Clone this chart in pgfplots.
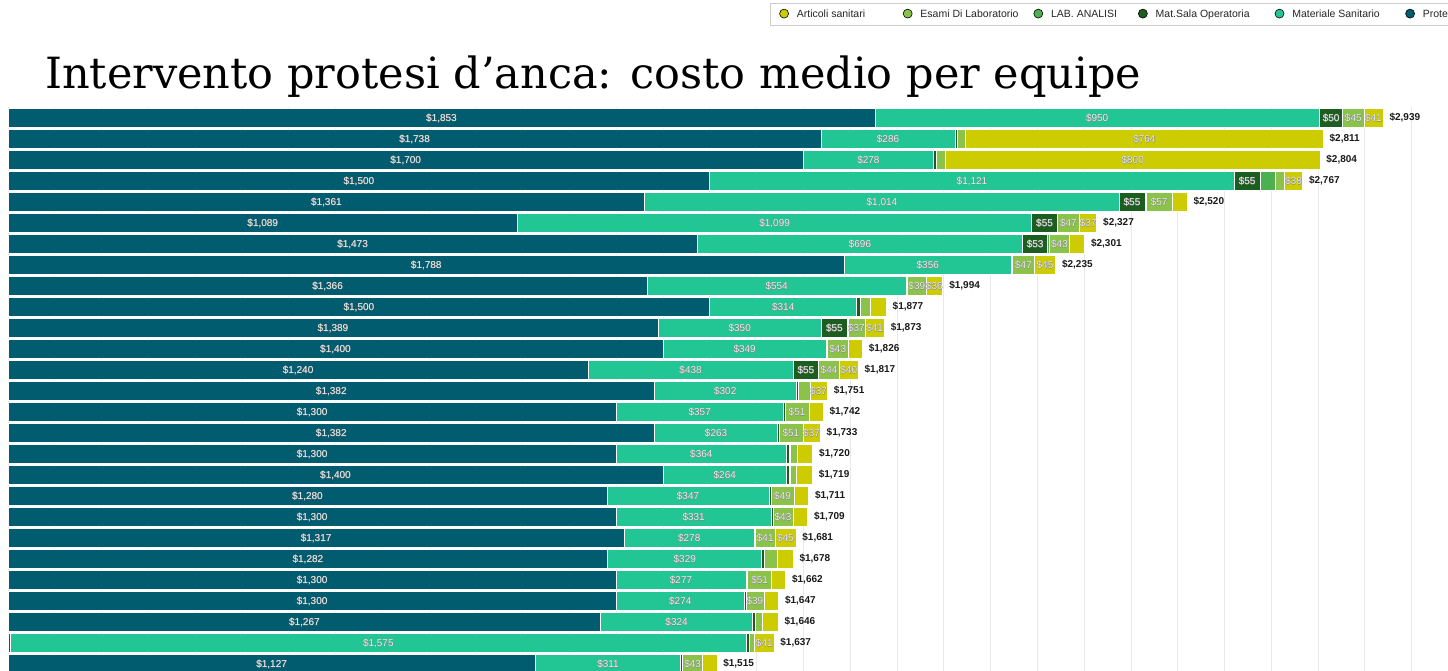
\documentclass[border=0pt]{standalone}
\usepackage{fontspec}
\setmainfont{Liberation Sans}
\newfontfamily\titlefont{DejaVu Serif}
\usepackage{pgfplots}
\usepackage{pgfplotstable}
\pgfplotsset{compat=1.18}

\definecolor{cprot}{RGB}{0,92,110}
\definecolor{cmat}{RGB}{33,198,148}
\definecolor{csala}{RGB}{27,94,32}
\definecolor{clab}{RGB}{76,175,80}
\definecolor{cesami}{RGB}{139,195,74}
\definecolor{cart}{RGB}{204,204,0}

% P = Protesi, M = Materiale Sanitario, S = Mat.Sala Operatoria,
% L = LAB. ANALISI, E = Esami Di Laboratorio, A = Articoli sanitari, T = totale
\pgfplotstableread{
i  P    M    S  L  E  A   T
0  1853 950  50 0  45 41  2939
1  1738 286  6  0  17 764 2811
2  1700 278  6  0  20 800 2804
3  1500 1121 55 32 21 38  2767
4  1361 1014 55 2  57 31  2520
5  1089 1099 55 0  47 37  2327
6  1473 696  53 4  43 32  2301
7  1788 356  3  0  47 45  2235
8  1366 554  3  0  39 36  1994
9  1500 314  7  0  22 34  1877
10 1389 350  55 1  37 41  1873
11 1400 349  3  0  43 31  1826
12 1240 438  55 0  44 40  1817
13 1382 302  6  0  24 37  1751
14 1300 357  4  0  51 30  1742
15 1382 263  3  0  51 37  1733
16 1300 364  5  3  14 34  1720
17 1400 264  5  3  13 34  1719
18 1280 347  4  0  49 31  1711
19 1300 331  4  0  43 31  1709
20 1317 278  3  0  41 45  1681
21 1282 329  6  0  28 33  1678
22 1300 277  4  0  51 30  1662
23 1300 274  3  0  39 31  1647
24 1267 324  7  0  14 34  1646
25 4    1575 6  0  11 41  1637
26 1127 311  4  0  43 30  1515
}\costi

\newcommand\lblfont{\fontsize{10}{12}\selectfont}
\pgfplotsset{
  myframe/.style={at={(8pt,-3.5pt)}, anchor=south west, scale only axis,
    width=1441pt, height=567pt, xmin=0, xmax=3080, ymin=-0.5, ymax=26.5,
    y dir=reverse},
  val/.style={forget plot, only marks, mark=*, mark size=0pt,
    mark options={draw=none, fill=none}},
  seg/.style={draw=white, line width=0.6pt},
  halo/.style={every node near coord/.append style={
    font=\lblfont\addfontfeature{FakeBold=2.5}, text=black!50}},
  plain/.style={every node near coord/.append style={
    font=\lblfont, text=white!93!black}},
}
\newcommand\money[1]{\$\pgfmathprintnumber[fixed,precision=0,1000 sep={,},assume math mode=true]{#1}}
% label of one segment: halo first, then the light text on top
\newcommand\lbl[2]{%
  \addplot[val, halo, restrict expr to domain={\thisrow{#2}}{35:99999}]
    table[x expr={#1}, y=i, meta=#2] {\costi};
  \addplot[val, plain, restrict expr to domain={\thisrow{#2}}{35:99999}]
    table[x expr={#1}, y=i, meta=#2] {\costi};
}

\begin{document}
\begin{tikzpicture}
\useasboundingbox (0,0) rectangle (1448pt,671pt);

\begin{axis}[myframe, xbar stacked, bar width=18.5pt,
  axis line style={draw=none}, ytick=\empty,
  xtick={0,100,...,3000}, xticklabels={}, major tick length=0pt,
  xmajorgrids, grid style={draw=black!9, line width=0.6pt}]
\addplot[seg, fill=cprot]  table[x=P, y=i] {\costi};
\addplot[seg, fill=cmat]   table[x=M, y=i] {\costi};
\addplot[seg, fill=csala]  table[x=S, y=i] {\costi};
\addplot[seg, fill=clab]   table[x=L, y=i] {\costi};
\addplot[seg, fill=cesami] table[x=E, y=i] {\costi};
\addplot[seg, fill=cart]   table[x=A, y=i] {\costi};
\end{axis}

\begin{axis}[myframe, hide axis, clip=false, point meta=explicit,
  nodes near coords={\money{\pgfplotspointmeta}},
  every node near coord/.append style={anchor=center},
  legend style={at={(0.5288,1.1843)}, anchor=north west,
    draw=black!20, line width=0.6pt, inner xsep=9pt, inner ysep=5.5pt,
    font=\fontsize{10.5}{12}\selectfont, text=black!85, legend columns=6,
    nodes={inner sep=0pt, text height=7.5pt, text depth=2pt},
    /tikz/every odd column/.append style={column sep=8pt},
    /tikz/every even column/.append style={column sep=0pt}},
  legend cell align=left,
  legend image code/.code={\fill[#1] (4.5pt,1pt) circle (4.5pt);}]
\lbl{\thisrow{P}/2}{P}
\lbl{\thisrow{P}+\thisrow{M}/2}{M}
\lbl{\thisrow{P}+\thisrow{M}+\thisrow{S}/2}{S}
\lbl{\thisrow{P}+\thisrow{M}+\thisrow{S}+\thisrow{L}/2}{L}
\lbl{\thisrow{P}+\thisrow{M}+\thisrow{S}+\thisrow{L}+\thisrow{E}/2}{E}
\lbl{\thisrow{P}+\thisrow{M}+\thisrow{S}+\thisrow{L}+\thisrow{E}+\thisrow{A}/2}{A}
% totali
\addplot[val, nodes near coords={\bfseries\money{\pgfplotspointmeta}},
  every node near coord/.append style={anchor=west, xshift=3pt,
    font=\fontsize{10}{12}\selectfont, text=black!90}]
  table[x expr={\thisrow{P}+\thisrow{M}+\thisrow{S}+\thisrow{L}+\thisrow{E}+\thisrow{A}}, y=i, meta=T] {\costi};

\addlegendimage{fill=cart}   \addlegendentry{\makebox[106pt][l]{Articoli sanitari}}
\addlegendimage{fill=cesami} \addlegendentry{\makebox[113pt][l]{Esami Di Laboratorio}}
\addlegendimage{fill=clab}   \addlegendentry{\makebox[87pt][l]{LAB. ANALISI}}
\addlegendimage{fill=csala}  \addlegendentry{\makebox[119pt][l]{Mat.Sala Operatoria}}
\addlegendimage{fill=cmat}   \addlegendentry{\makebox[113pt][l]{Materiale Sanitario}}
\addlegendimage{fill=cprot}  \addlegendentry{\makebox[60pt][l]{Protesi}}
\end{axis}

\node[anchor=base west, inner sep=0pt, font=\titlefont\fontsize{43}{48}\selectfont]
  at (45pt,582pt) {Intervento protesi d’anca: costo medio per equipe};
\end{tikzpicture}
\end{document}
